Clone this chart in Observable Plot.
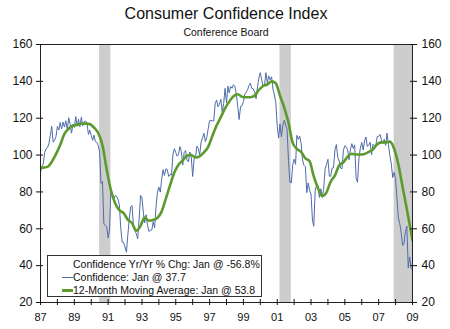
<!DOCTYPE html>
<html>
<head>
<meta charset="utf-8">
<script src="https://cdn.jsdelivr.net/npm/d3@7"></script>
<script src="https://cdn.jsdelivr.net/npm/@observablehq/plot@0.6"></script>
<style>
  body { margin: 0; background: #fff; font-family: "Liberation Sans", Arial, sans-serif; color: #111; }
  #wrap { position: relative; width: 450px; height: 329px; overflow: hidden; }
  #title { position: absolute; left: 0; top: 5px; width: 452px; text-align: center; font-size: 16px; line-height: 18px; }
  #subtitle { position: absolute; left: 0; top: 26px; width: 452px; text-align: center; font-size: 10.5px; line-height: 12px; }
  #chart { position: absolute; left: 0; top: 38px; }
  #legend { position: absolute; left: 47px; top: 255px; width: 213px; height: 40px; border: 1px solid #333; background: #fff; font-size: 10.5px; }
  .row { position: absolute; left: 25px; height: 13px; line-height: 13px; white-space: nowrap; }
  .swatch { position: absolute; left: 14px; width: 11px; }
</style>
</head>
<body>
<div id="wrap">
  <div id="title">Consumer Confidence Index</div>
  <div id="subtitle">Conference Board</div>
  <div id="chart"></div>
  <div id="legend">
    <div class="row" style="top:2px">Confidence Yr/Yr % Chg: Jan @ -56.8%</div>
    <div class="swatch" style="top:20.5px;height:0;border-top:1px solid #4e6cab"></div>
    <div class="row" style="top:14.5px">Confidence: Jan @ 37.7</div>
    <div class="swatch" style="top:33px;height:0;border-top:3px solid #5b9b2d"></div>
    <div class="row" style="top:27.5px">12-Month Moving Average: Jan @ 53.8</div>
  </div>
</div>
<script>
// Monthly Conference Board Consumer Confidence Index, Jan 1987 .. Jan 2009
const confidence = [
  90.4, 94.1, 95.1, 101.4, 103.4, 104.0, 106.2, 110.6, 115.6, 107.0, 108.0, 110.0,
  115.5, 113.6, 117.7, 114.2, 117.9, 115.2, 118.6, 113.8, 120.3, 116.8, 111.9, 116.5,
  115.0, 120.9, 115.6, 119.4, 115.4, 120.6, 115.9, 118.1, 118.5, 117.5, 111.2, 113.5,
  110.5, 108.0, 110.8, 107.3, 107.0, 105.2, 101.7, 84.7, 85.6, 62.6, 61.7, 61.2,
  55.1, 59.4, 81.1, 79.4, 76.4, 78.0, 77.7, 76.1, 72.9, 60.1, 52.7, 52.5,
  50.2, 47.3, 56.5, 65.1, 71.9, 72.6, 61.2, 59.0, 57.3, 54.6, 65.6, 78.1,
  76.7, 68.5, 63.2, 67.6, 61.9, 58.6, 59.2, 59.3, 63.8, 60.5, 71.9, 79.8,
  82.6, 79.9, 86.7, 92.1, 88.9, 92.5, 92.1, 88.4, 89.5, 89.1, 100.4, 103.4,
  101.4, 99.4, 100.2, 104.6, 102.0, 94.6, 101.4, 102.4, 97.3, 96.3, 101.6, 99.2,
  88.4, 98.0, 98.4, 104.8, 103.5, 100.1, 107.0, 109.4, 111.8, 107.3, 109.5, 114.2,
  118.7, 118.9, 118.5, 118.5, 127.9, 129.9, 126.3, 127.6, 130.2, 123.4, 128.1, 136.2,
  128.3, 137.4, 133.8, 137.2, 136.3, 138.2, 137.2, 133.1, 126.4, 119.3, 126.4, 126.7,
  128.9, 133.1, 134.0, 135.5, 137.7, 139.0, 136.2, 136.0, 134.2, 130.5, 137.0, 141.7,
  144.7, 140.8, 137.1, 137.7, 144.7, 139.2, 143.0, 140.8, 142.5, 135.8, 132.6, 128.6,
  115.7, 109.2, 116.9, 109.9, 116.1, 118.9, 116.3, 114.0, 97.0, 85.3, 84.9, 94.6,
  97.8, 95.0, 110.7, 108.5, 110.3, 106.3, 97.4, 94.5, 93.7, 79.6, 84.9, 80.7,
  78.8, 64.8, 61.4, 81.0, 83.6, 83.5, 77.0, 81.7, 77.0, 81.7, 92.5, 94.8,
  97.7, 88.5, 88.5, 93.0, 93.1, 102.8, 105.7, 98.7, 96.7, 92.9, 92.6, 102.7,
  105.1, 104.4, 103.0, 97.5, 103.1, 106.2, 103.6, 105.5, 87.5, 85.2, 98.3, 103.8,
  106.8, 102.7, 107.5, 109.8, 104.7, 105.4, 107.0, 100.2, 105.9, 105.1, 105.3, 110.0,
  110.2, 111.2, 108.2, 106.3, 108.5, 105.3, 111.9, 105.6, 99.5, 95.2, 87.8, 90.6,
  87.3, 76.4, 65.9, 62.8, 58.1, 51.0, 51.9, 58.5, 61.4, 38.8, 44.7, 38.6,
  37.7
];
const confidenceStart = "1987-01-01";

// 12-month moving average, read at quarter ends (Dec 1986 .. Dec 2008), plus Jan 2009
const movingAverage = [
  93.3,
  93.2, 93.6, 96.3, 100.5,
  105.5, 111.5, 114.3, 116.0,
  116.4, 117.1, 117.05, 116.8,
  114.95, 111.96, 105.25, 92.2,
  81.05, 73.9, 70.1, 68.45,
  65.0, 63.0, 58.9, 61.6,
  66.15, 64.4, 64.76, 65.9,
  69.3, 76.4, 83.7, 90.5,
  94.8, 97.1, 99.7, 100.0,
  98.7, 99.3, 101.5, 104.4,
  110.3, 116.0, 120.6, 125.35,
  129.0, 131.9, 133.0, 131.7,
  131.4, 131.4, 132.25, 135.3,
  137.5, 138.3, 140.0, 139.0,
  132.2, 125.8, 117.6, 106.6,
  103.4, 101.7, 98.25, 96.6,
  88.4, 82.0, 77.8, 79.8,
  85.6, 89.0, 94.5, 96.1,
  99.2, 100.7, 100.3, 100.3,
  100.6, 101.7, 103.1, 105.9,
  106.9, 106.9, 107.3, 103.4,
  95.0, 82.7, 70.6, 57.95,
  53.8
];
const movingAverageStart = "1986-12-01";

// Recessions (shaded)
const recessionStarts = ["1990-07-01", "2001-03-01", "2007-12-01"];
const recessionEnds   = ["1991-03-01", "2001-11-01", "2009-01-01"];

const yTicks = [20, 40, 60, 80, 100, 120, 140, 160];
const xTickYears = d3.range(1987, 2010);
const xTickLabels = ["87","89","91","93","95","97","99","01","03","05","07","09"];

// Build tables
const confData = confidence.map((v, i) => ({
  date: d3.utcMonth.offset(new Date(confidenceStart), i), value: v
}));
const maDates = d3.utcMonth.range(new Date(movingAverageStart), new Date("2009-01-02"), 3);
maDates.push(new Date("2009-01-01"));
const maData = movingAverage.map((v, i) => ({ date: maDates[i], value: v }));
const recessions = recessionStarts.map((s, i) => ({ start: new Date(s), end: new Date(recessionEnds[i]) }));
const xTicks = xTickYears.map(y => new Date(Date.UTC(y, 0, 1)));
const labelFor = d => {
  const y = d.getUTCFullYear();
  return y % 2 === 1 ? xTickLabels[(y - 1987) / 2] : "";
};
const blank = () => "";

const chart = Plot.plot({
  width: 450,
  height: 291,
  marginLeft: 40,
  marginRight: 38,
  marginTop: 6,
  marginBottom: 27,
  style: { fontFamily: "'Liberation Sans', Arial, sans-serif", fontSize: "12px", color: "#111", background: "#fff" },
  x: { type: "utc", domain: [new Date("1987-01-01"), new Date("2009-01-01")] },
  y: { domain: [20, 160] },
  marks: [
    Plot.barX(recessions, { x1: "start", x2: "end", fill: "#cdcdcd" }),
    Plot.line(confData, { x: "date", y: "value", stroke: "#4e6cab", strokeWidth: 1, clip: true }),
    Plot.line(maData, { x: "date", y: "value", stroke: "#5b9b2d", strokeWidth: 2.6, curve: "monotone-x", clip: true }),
    Plot.frame({ stroke: "#222" }),
    Plot.axisY({ anchor: "left", ticks: yTicks, tickSize: 4, tickPadding: 4, label: null, fontSize: 12 }),
    Plot.axisY({ anchor: "left", ticks: yTicks, tickSize: 3, dx: 3, tickFormat: blank, label: null }),
    Plot.axisY({ anchor: "right", ticks: yTicks, tickSize: 4, tickPadding: 5, label: null, fontSize: 12 }),
    Plot.axisY({ anchor: "right", ticks: yTicks, tickSize: 3, dx: -3, tickFormat: blank, label: null }),
    Plot.axisX({ ticks: xTicks, tickSize: 3, tickPadding: 8, tickFormat: labelFor, label: null, fontSize: 11 }),
    Plot.axisX({ ticks: xTicks, tickSize: 3, dy: -3, tickFormat: blank, label: null })
  ]
});
document.getElementById("chart").appendChild(chart);
</script>
</body>
</html>
